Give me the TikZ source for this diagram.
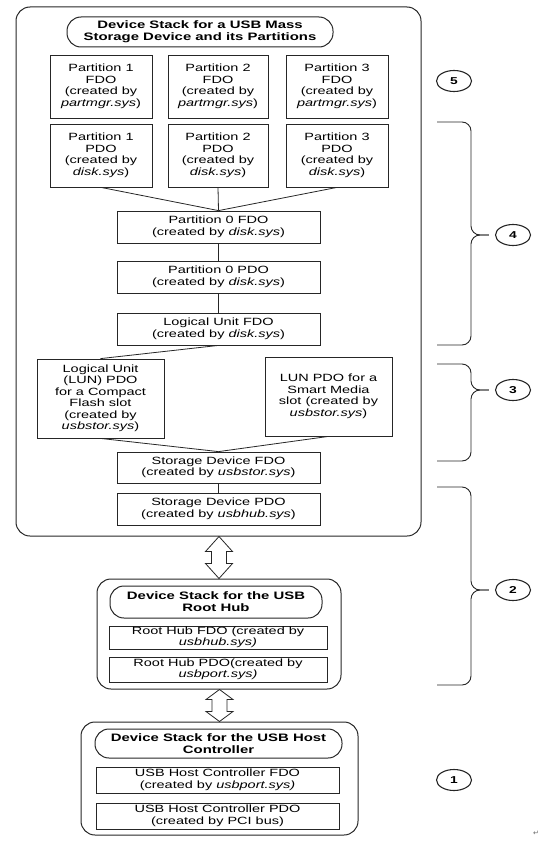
\documentclass[tikz,border=0pt]{standalone}
\usepackage{fontspec}
\setmainfont{Liberation Sans}[FakeStretch=1.38]
\newfontfamily\symfont{DejaVu Sans}
\usetikzlibrary{shapes.geometric,calc}
\tikzset{box/.style={draw=black!85,line width=0.8pt,align=center,inner sep=0pt,font=\fontsize{10.5}{11.5}\selectfont},
stackbox/.style={draw=black!85,line width=1pt,rounded corners=14pt},
titlebox/.style={box,rounded corners=14pt,line width=1pt,font=\bfseries\fontsize{10.8}{12}\selectfont},
link/.style={draw=black!85,line width=0.8pt},
fatarrow/.style={draw=black!85,line width=0.8pt,fill=white},
brace/.style={draw=black!85,line width=0.9pt,rounded corners=9pt},
tag/.style={draw=black!85,ellipse,line width=1.1pt,minimum width=35pt,minimum height=21pt,inner sep=0pt,font=\bfseries\fontsize{10}{10}\selectfont}}
% open double arrow between two stacks, #3 = head length
\newcommand\twoway[3]{\draw[fatarrow] let \p1=(#1.south), \p2=(#2.north) in (\x2,\y1) -- ++(13.5pt,-#3) -- ++(-6pt,0pt) -- (\x2+7.5pt,\y2+#3) -- ++(6pt,0pt) -- (\x2,\y2) -- ++(-13.5pt,#3) -- ++(6pt,0pt) -- (\x2-7.5pt,\y1-#3) -- ++(-6pt,0pt) -- cycle;}

\begin{document}
\begin{tikzpicture}[x=1pt,y=-1pt]
\useasboundingbox (0,0) rectangle (544,843);
% mass storage stack
\node[stackbox,minimum width=405pt,minimum height=529pt] (msd) at (218.5,271.5) {};
\node[titlebox,minimum width=266pt,minimum height=30pt] (msdt) at (200,32) {Device Stack for a USB Mass\\Storage Device and its Partitions};
\node[box,minimum width=102pt,minimum height=63pt] (p1f) at (101,86.5) {Partition 1\\FDO\\(created by\\\textit{partmgr.sys})};
\node[box,minimum width=100pt,minimum height=63pt] (p2f) at (218,86.5) {Partition 2\\FDO\\(created by\\\textit{partmgr.sys})};
\node[box,minimum width=102pt,minimum height=63pt] (p3f) at (337,86.5) {Partition 3\\FDO\\(created by\\\textit{partmgr.sys})};
\node[box,minimum width=102pt,minimum height=63pt] (p1p) at (101,155.5) {Partition 1\\PDO\\(created by\\\textit{disk.sys})};
\node[box,minimum width=100pt,minimum height=63pt] (p2p) at (218,155.5) {Partition 2\\PDO\\(created by\\\textit{disk.sys})};
\node[box,minimum width=102pt,minimum height=63pt] (p3p) at (337,155.5) {Partition 3\\PDO\\(created by\\\textit{disk.sys})};
\node[box,minimum width=203pt,minimum height=32pt] (p0f) at (218.5,227) {Partition 0 FDO\\(created by \textit{disk.sys})};
\node[box,minimum width=203pt,minimum height=32pt] (p0p) at (218.5,277) {Partition 0 PDO\\(created by \textit{disk.sys})};
\node[box,minimum width=203pt,minimum height=32pt] (luf) at (218.5,329) {Logical Unit FDO\\(created by \textit{disk.sys})};
\node[box,minimum width=127pt,minimum height=79pt] (cfp) at (100.5,398.5) {Logical Unit\\(LUN) PDO\\for a Compact\\Flash slot\\(created by\\\textit{usbstor.sys})};
\node[box,minimum width=127pt,minimum height=79pt] (smp) at (328.5,396.5) {LUN PDO for a\\Smart Media\\slot (created by\\\textit{usbstor.sys})};
\node[box,minimum width=203pt,minimum height=31pt] (sdf) at (218.5,467.5) {Storage Device FDO\\(created by \textit{usbstor.sys})};
\node[box,minimum width=203pt,minimum height=32pt] (sdp) at (218.5,509) {Storage Device PDO\\(created by \textit{usbhub.sys})};
\draw[link] (p1p.south) -- (p0f.north);
\draw[link] (p2p.south) -- (p0f.north);
\draw[link] (p3p.south) -- (p0f.north);
\draw[link] (p0f) -- (p0p);
\draw[link] (p0p) -- (luf);
\draw[link] (luf.south) -- (cfp.north);
\draw[link] (cfp.south) -- (sdf.north);
\draw[link] (smp.south) -- (sdf.north);
\draw[link] (sdf) -- (sdp);
% root hub stack
\node[stackbox,minimum width=244pt,minimum height=110pt] (hub) at (219,634) {};
\node[titlebox,minimum width=212pt,minimum height=32pt] (hubt) at (216,602) {Device Stack for the USB\\Root Hub};
\node[box,minimum width=218pt,minimum height=23pt] (hubf) at (218,637.5) {Root Hub FDO (created by\\\textit{usbhub.sys)}};
\node[box,minimum width=218pt,minimum height=25pt] (hubp) at (218,669.5) {Root Hub PDO(created by\\\textit{usbport.sys)}};
% host controller stack
\node[stackbox,minimum width=277pt,minimum height=113pt] (hc) at (219.5,778.5) {};
\node[titlebox,minimum width=247pt,minimum height=29pt] (hct) at (218.5,743.5) {Device Stack for the USB Host\\Controller};
\node[box,minimum width=243pt,minimum height=26pt] (hcf) at (217.5,780) {USB Host Controller FDO\\(created by \textit{usbport.sys)}};
\node[box,minimum width=243pt,minimum height=26pt] (hcp) at (217.5,816) {USB Host Controller PDO\\(created by PCI bus)};
\twoway{msd}{hub}{15pt}
\twoway{hub}{hc}{10pt}
% layer numbers
\node[tag] (c5) at (454,81) {5};
\node[tag] (c4) at (513,235) {4};
\node[tag] (c3) at (513,390) {3};
\node[tag] (c2) at (513,590) {2};
\node[tag] (c1) at (454,780) {1};
\draw[brace] (437,122) -- (471,122) -- (471,235) -- ([xshift=-6pt]c4.west);
\draw[brace] (437,345) -- (471,345) -- (471,235) -- ([xshift=-6pt]c4.west);
\draw[brace] (437,364) -- (471,364) -- (471,390) -- ([xshift=-6pt]c3.west);
\draw[brace] (437,461) -- (471,461) -- (471,390) -- ([xshift=-6pt]c3.west);
\draw[brace] (437,487) -- (471,487) -- (471,590) -- ([xshift=-6pt]c2.west);
\draw[brace] (437,685) -- (471,685) -- (471,590) -- ([xshift=-6pt]c2.west);
\node[font=\symfont\fontsize{7}{7}\selectfont,text=black!60] (ret) at (536,833) {↵};
\end{tikzpicture}
\end{document}
